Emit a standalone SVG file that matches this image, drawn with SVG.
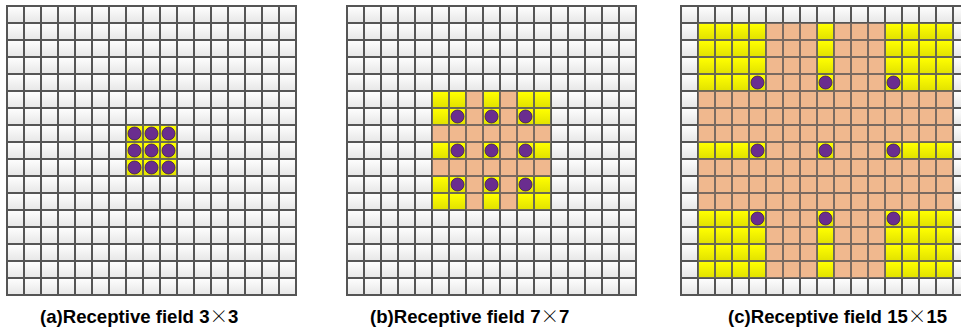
<svg xmlns="http://www.w3.org/2000/svg" width="961" height="332" viewBox="0 0 961 332">
<style>
.lbl{font-family:"Liberation Sans",Arial,sans-serif;font-weight:bold;font-size:18.6px;fill:#000}
.x{font-family:"Noto Sans CJK SC","DejaVu Sans",sans-serif;font-weight:300}
.dot{fill:#6a2d8f;stroke:#3b1a52;stroke-width:0.8}
.frame{fill:none;stroke:#555555;stroke-width:2}
</style>
<defs>
<linearGradient id="gw" x1="0" y1="0" x2="0" y2="1"><stop offset="0" stop-color="#fdfdfd"/><stop offset="1" stop-color="#e8e8e8"/></linearGradient>
<linearGradient id="gy" x1="0" y1="0" x2="0" y2="1"><stop offset="0" stop-color="#ffff00"/><stop offset="1" stop-color="#e3e300"/></linearGradient>
<pattern id="pw" width="17" height="17" patternUnits="userSpaceOnUse"><rect width="17" height="17" fill="#555555"/><rect x="1" y="1" width="15" height="15" fill="url(#gw)"/></pattern>
<pattern id="py" width="17" height="17" patternUnits="userSpaceOnUse"><rect width="17" height="17" fill="#6a6a52"/><rect x="1" y="1" width="15" height="15" fill="url(#gy)"/></pattern>
<pattern id="po" width="17" height="17" patternUnits="userSpaceOnUse"><rect width="17" height="17" fill="#7a6a60"/><rect x="1" y="1" width="15" height="15" fill="#f0b88e"/></pattern>
</defs>

<g id="panel-a" transform="translate(7,6)">
<rect width="289" height="289" fill="url(#pw)"/>
<rect x="119" y="119" width="51" height="51" fill="url(#py)"/>
<g class="dot">
<circle cx="127.5" cy="127.5" r="6.5"/><circle cx="144.5" cy="127.5" r="6.5"/><circle cx="161.5" cy="127.5" r="6.5"/>
<circle cx="127.5" cy="144.5" r="6.5"/><circle cx="144.5" cy="144.5" r="6.5"/><circle cx="161.5" cy="144.5" r="6.5"/>
<circle cx="127.5" cy="161.5" r="6.5"/><circle cx="144.5" cy="161.5" r="6.5"/><circle cx="161.5" cy="161.5" r="6.5"/>
</g>
<rect class="frame" width="289" height="289"/>
</g>

<g id="panel-b" transform="translate(347,6)">
<rect width="289" height="289" fill="url(#pw)"/>
<rect x="85" y="85" width="119" height="119" fill="url(#po)"/>
<g fill="url(#py)">
<rect x="85" y="85" width="34" height="34"/><rect x="136" y="85" width="17" height="34"/><rect x="170" y="85" width="34" height="34"/>
<rect x="85" y="136" width="34" height="17"/><rect x="136" y="136" width="17" height="17"/><rect x="170" y="136" width="34" height="17"/>
<rect x="85" y="170" width="34" height="34"/><rect x="136" y="170" width="17" height="34"/><rect x="170" y="170" width="34" height="34"/>
</g>
<g class="dot">
<circle cx="110.5" cy="110.5" r="6.5"/><circle cx="144.5" cy="110.5" r="6.5"/><circle cx="178.5" cy="110.5" r="6.5"/>
<circle cx="110.5" cy="144.5" r="6.5"/><circle cx="144.5" cy="144.5" r="6.5"/><circle cx="178.5" cy="144.5" r="6.5"/>
<circle cx="110.5" cy="178.5" r="6.5"/><circle cx="144.5" cy="178.5" r="6.5"/><circle cx="178.5" cy="178.5" r="6.5"/>
</g>
<rect class="frame" width="289" height="289"/>
</g>

<g id="panel-c" transform="translate(681,6)">
<rect width="289" height="289" fill="url(#pw)"/>
<rect x="17" y="17" width="255" height="255" fill="url(#po)"/>
<g fill="url(#py)">
<rect x="17" y="17" width="68" height="68"/><rect x="136" y="17" width="17" height="68"/><rect x="204" y="17" width="68" height="68"/>
<rect x="17" y="136" width="68" height="17"/><rect x="136" y="136" width="17" height="17"/><rect x="204" y="136" width="68" height="17"/>
<rect x="17" y="204" width="68" height="68"/><rect x="136" y="204" width="17" height="68"/><rect x="204" y="204" width="68" height="68"/>
</g>
<g class="dot">
<circle cx="76.5" cy="76.5" r="6.5"/><circle cx="144.5" cy="76.5" r="6.5"/><circle cx="212.5" cy="76.5" r="6.5"/>
<circle cx="76.5" cy="144.5" r="6.5"/><circle cx="144.5" cy="144.5" r="6.5"/><circle cx="212.5" cy="144.5" r="6.5"/>
<circle cx="76.5" cy="212.5" r="6.5"/><circle cx="144.5" cy="212.5" r="6.5"/><circle cx="212.5" cy="212.5" r="6.5"/>
</g>
<rect class="frame" width="289" height="289"/>
</g>

<g id="labels">
<text class="lbl" x="40" y="323">(a)Receptive field 3<tspan class="x">×</tspan>3</text>
<text class="lbl" x="370" y="323">(b)Receptive field 7<tspan class="x">×</tspan>7</text>
<text class="lbl" x="728" y="323">(c)Receptive field 15<tspan class="x">×</tspan>15</text>
</g>
</svg>
